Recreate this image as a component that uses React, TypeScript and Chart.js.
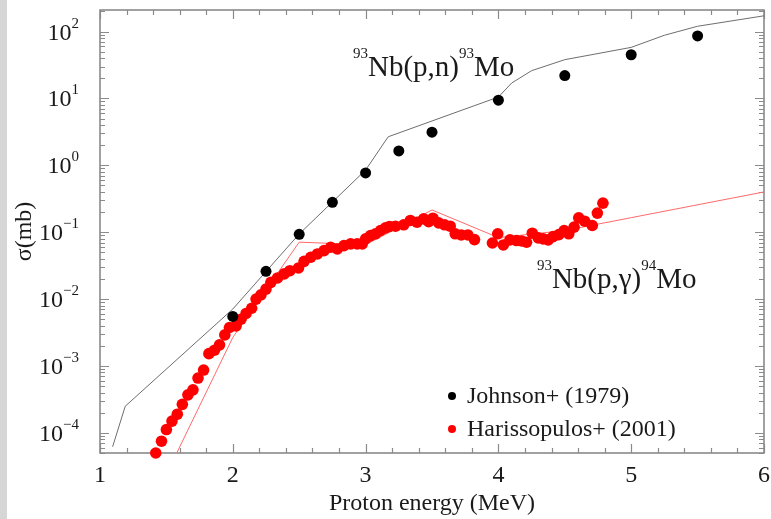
import React, { useEffect, useRef } from "react";
import { Chart, registerables } from "chart.js";

Chart.register(...registerables);

// Johnson+ (1979): 93Nb(p,n)93Mo cross sections
const johnsonEnergy = [2.0, 2.25, 2.5, 2.75, 3.0, 3.25, 3.5, 4.0, 4.5, 5.0, 5.5];
const johnsonSigma = [0.0055, 0.026, 0.093, 0.28, 0.77, 1.64, 3.13, 9.4, 22, 45, 86];

// Harissopulos+ (2001): 93Nb(p,gamma)94Mo cross sections
const harisEnergy = [
  1.42, 1.463, 1.5, 1.542, 1.582, 1.62, 1.662, 1.7, 1.738, 1.78,
  1.82, 1.862, 1.9, 1.94, 1.975, 2.025, 2.062, 2.1, 2.142, 2.175,
  2.212, 2.25, 2.287, 2.337, 2.387, 2.43, 2.495, 2.537, 2.587, 2.637,
  2.687, 2.737, 2.787, 2.837, 2.887, 2.937, 2.975, 3.0, 3.037, 3.075,
  3.112, 3.15, 3.18, 3.225, 3.287, 3.337, 3.387, 3.437, 3.475, 3.507,
  3.55, 3.595, 3.637, 3.675, 3.72, 3.77, 3.82, 3.955, 3.995, 4.037,
  4.087, 4.137, 4.175, 4.212, 4.255, 4.3, 4.337, 4.375, 4.412, 4.455,
  4.495, 4.53, 4.57, 4.605, 4.65, 4.707, 4.745, 4.787,
];
const harisSigma = [
  5.0e-5, 7.5e-5, 1.12e-4, 1.5e-4, 1.9e-4, 2.67e-4, 3.7e-4, 4.4e-4, 6.6e-4, 8.7e-4,
  1.53e-3, 1.72e-3, 2.07e-3, 2.92e-3, 3.76e-3, 3.98e-3, 5.0e-3, 6.1e-3, 7.3e-3, 1.0e-2,
  1.16e-2, 1.41e-2, 0.0178, 0.0207, 0.0238, 0.0266, 0.0292, 0.0367, 0.0422, 0.0473,
  0.053, 0.0596, 0.0562, 0.063, 0.067, 0.067, 0.067, 0.0795, 0.089, 0.0946,
  0.106, 0.116, 0.122, 0.123, 0.129, 0.15, 0.141, 0.158, 0.144, 0.162,
  0.138, 0.129, 0.123, 0.0946, 0.091, 0.091, 0.0776, 0.069, 0.0946, 0.0645,
  0.0769, 0.075, 0.074, 0.0708, 0.0967, 0.0824, 0.0794, 0.0769, 0.086, 0.092,
  0.106, 0.0946, 0.119, 0.164, 0.146, 0.126, 0.193, 0.272,
];

// Model curve for (p,n)
const pnModelEnergy = [1.095, 1.19, 2.0, 2.5, 3.0, 3.17, 4.0, 4.1, 4.25, 4.5, 5.0, 5.25, 5.5, 6.0];
const pnModelSigma = [6.2e-5, 2.5e-4, 7.1e-3, 0.094, 0.85, 2.67, 10.5, 17, 26, 38, 58, 88, 120, 172];

// Model curve for (p,gamma)
const pgModelEnergy = [1.5, 2.0, 2.5, 3.0, 3.5, 4.0, 4.5, 5.0, 6.0];
const pgModelSigma = [2.4e-5, 2.67e-3, 0.071, 0.065, 0.215, 0.083, 0.106, 0.165, 0.4];

const xTickValues = [1, 2, 3, 4, 5, 6];
const yDecades = [-4, -3, -2, -1, 0, 1, 2];

const X_MIN = 1;
const X_MAX = 6;
const Y_MIN = 5e-5;
const Y_MAX = 210;

const SERIF = '"Liberation Serif", "Times New Roman", serif';
const TEXT = "#1a1a1a";
const FRAME = "#8a8a8a";

const toPoints = (xs: number[], ys: number[]) => xs.map((x, i) => ({ x, y: ys[i] }));

type Part = { t: string; sup?: boolean };

function drawRich(ctx: CanvasRenderingContext2D, x: number, y: number, parts: Part[], size: number, supSize: number, rise: number) {
  let cx = x;
  ctx.textAlign = "left";
  ctx.textBaseline = "alphabetic";
  for (const p of parts) {
    ctx.font = `${p.sup ? supSize : size}px ${SERIF}`;
    ctx.fillText(p.t, cx, p.sup ? y - rise : y);
    cx += ctx.measureText(p.t).width;
  }
}

const decorPlugin = {
  id: "decor",
  beforeDraw(chart: any) {
    const { ctx, width, height } = chart;
    ctx.save();
    ctx.fillStyle = "#ffffff";
    ctx.fillRect(0, 0, width, height);
    ctx.fillStyle = "#d6d6d6";
    ctx.fillRect(0, 0, 7, height);
    ctx.restore();
  },
  beforeDatasetsDraw(chart: any) {
    const { ctx, chartArea: a } = chart;
    const xs = chart.scales.x;
    const ys = chart.scales.y;
    ctx.save();
    ctx.strokeStyle = FRAME;
    ctx.lineWidth = 1.2;
    // x ticks every 0.2 MeV, top and bottom, pointing inward
    for (let i = 0; i <= 25; i++) {
      const v = X_MIN + i * 0.2;
      const px = Math.round(xs.getPixelForValue(v)) + 0.5;
      const major = i % 5 === 0;
      const len = major ? 9 : 5;
      ctx.beginPath();
      ctx.moveTo(px, a.bottom);
      ctx.lineTo(px, a.bottom - len);
      ctx.moveTo(px, a.top);
      ctx.lineTo(px, a.top + len);
      ctx.stroke();
    }
    // logarithmic y ticks, left and right
    for (let d = -5; d <= 2; d++) {
      for (let m = 1; m <= 9; m++) {
        const v = m * Math.pow(10, d);
        if (v < Y_MIN || v > Y_MAX) continue;
        const py = Math.round(ys.getPixelForValue(v)) + 0.5;
        const len = m === 1 ? 9 : 5;
        ctx.beginPath();
        ctx.moveTo(a.left, py);
        ctx.lineTo(a.left + len, py);
        ctx.moveTo(a.right, py);
        ctx.lineTo(a.right - len, py);
        ctx.stroke();
      }
    }
    ctx.lineWidth = 1.6;
    ctx.strokeRect(a.left, a.top, a.right - a.left, a.bottom - a.top);
    ctx.restore();
  },
  afterDraw(chart: any) {
    const { ctx, chartArea: a } = chart;
    const xs = chart.scales.x;
    const ys = chart.scales.y;
    ctx.save();
    ctx.fillStyle = TEXT;

    // x tick labels
    ctx.font = `24px ${SERIF}`;
    ctx.textAlign = "center";
    ctx.textBaseline = "alphabetic";
    for (const v of xTickValues) {
      ctx.fillText(String(v), xs.getPixelForValue(v), a.bottom + 29);
    }

    // y tick labels as powers of ten
    for (const d of yDecades) {
      const py = ys.getPixelForValue(Math.pow(10, d));
      const exp = d < 0 ? "\u2212" + Math.abs(d) : String(d);
      ctx.font = `15px ${SERIF}`;
      ctx.textAlign = "right";
      const right = a.left - 21;
      ctx.fillText(exp, right, py - 4);
      const ew = ctx.measureText(exp).width;
      ctx.font = `24px ${SERIF}`;
      ctx.fillText("10", right - ew, py + 8);
    }

    // axis titles
    ctx.font = `24px ${SERIF}`;
    ctx.textAlign = "center";
    ctx.fillText("Proton energy (MeV)", (a.left + a.right) / 2, a.bottom + 57);
    ctx.save();
    ctx.translate(31, (a.top + a.bottom) / 2);
    ctx.rotate(-Math.PI / 2);
    ctx.fillText("\u03c3(mb)", 0, 0);
    ctx.restore();

    // reaction labels
    drawRich(
      ctx,
      xs.getPixelForValue(2.905),
      ys.getPixelForValue(22),
      [{ t: "93", sup: true }, { t: "Nb(p,n)" }, { t: "93", sup: true }, { t: "Mo" }],
      29, 15, 18
    );
    drawRich(
      ctx,
      xs.getPixelForValue(4.29),
      ys.getPixelForValue(0.0148),
      [{ t: "93", sup: true }, { t: "Nb(p,\u03b3)" }, { t: "94", sup: true }, { t: "Mo" }],
      29, 15, 18
    );

    // legend
    const lx = a.left + 352;
    const entries = [
      { label: "Johnson+ (1979)", color: "#000000", y: a.bottom - 57 },
      { label: "Harissopulos+ (2001)", color: "#ff0000", y: a.bottom - 24 },
    ];
    ctx.font = `24px ${SERIF}`;
    ctx.textAlign = "left";
    for (const e of entries) {
      ctx.fillStyle = e.color;
      ctx.beginPath();
      ctx.arc(lx, e.y, 4, 0, Math.PI * 2);
      ctx.fill();
      ctx.fillStyle = TEXT;
      ctx.fillText(e.label, lx + 15, e.y + 7);
    }
    ctx.restore();
  },
};

export default function App() {
  const canvasRef = useRef<HTMLCanvasElement | null>(null);

  useEffect(() => {
    const canvas = canvasRef.current;
    if (!canvas) return;
    const chart = new Chart(canvas, {
      type: "scatter",
      data: {
        datasets: [
          {
            label: "Johnson+ (1979)",
            data: toPoints(johnsonEnergy, johnsonSigma),
            pointRadius: 5.5,
            pointBackgroundColor: "#000000",
            pointBorderWidth: 0,
            showLine: false,
            order: 1,
            clip: 8,
          },
          {
            label: "Harissopulos+ (2001)",
            data: toPoints(harisEnergy, harisSigma),
            pointRadius: 5.8,
            pointBackgroundColor: "#ff0000",
            pointBorderWidth: 0,
            showLine: false,
            order: 2,
            clip: 8,
          },
          {
            label: "(p,n) model",
            data: toPoints(pnModelEnergy, pnModelSigma),
            showLine: true,
            pointRadius: 0,
            borderColor: "#6e6e6e",
            borderWidth: 1,
            order: 3,
          },
          {
            label: "(p,gamma) model",
            data: toPoints(pgModelEnergy, pgModelSigma),
            showLine: true,
            pointRadius: 0,
            borderColor: "#ff6a6a",
            borderWidth: 1,
            order: 4,
          },
        ],
      },
      options: {
        animation: false,
        responsive: false,
        devicePixelRatio: 1,
        events: [],
        layout: { padding: { left: 100, right: 7, top: 10, bottom: 66 } },
        scales: {
          x: { type: "linear", min: X_MIN, max: X_MAX, display: false },
          y: { type: "logarithmic", min: Y_MIN, max: Y_MAX, display: false },
        },
        plugins: {
          legend: { display: false },
          tooltip: { enabled: false },
        },
      },
      plugins: [decorPlugin],
    });
    return () => chart.destroy();
  }, []);

  return (
    <div style={{ position: "fixed", left: 0, top: 0, width: 771, height: 519, background: "#fff" }}>
      <canvas ref={canvasRef} width={771} height={519} style={{ display: "block" }} />
    </div>
  );
}
